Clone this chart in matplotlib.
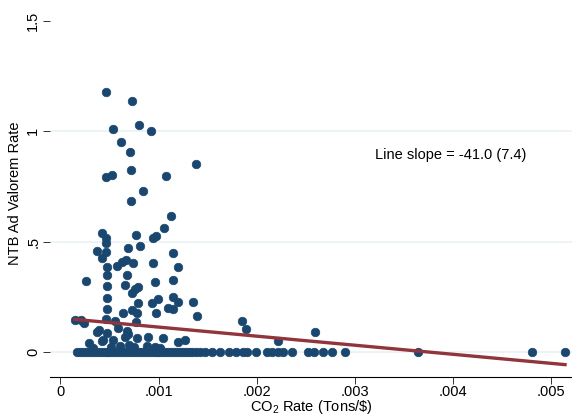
import matplotlib
matplotlib.use("Agg")
import matplotlib.pyplot as plt
import numpy as np

plt.rcParams['font.family'] = ['Liberation Sans', 'DejaVu Sans']
plt.rcParams['mathtext.default'] = 'regular'

# Non-zero observations (CO2 rate in units of 0.001 tons/$, NTB rate)
x_pos = [0.465, 0.725, 0.536, 0.801, 0.927, 0.618, 0.709, 1.382, 0.717, 0.465,
         0.523, 1.076, 0.839, 0.717, 1.127, 0.424, 0.465, 0.769, 1.053, 0.975,
         0.947, 0.465, 0.370, 0.465, 0.692, 0.811, 0.427, 1.151, 0.669, 0.625,
         0.577, 0.737, 0.944, 1.199, 0.470, 0.470, 0.676, 0.261, 0.964, 1.145,
         0.470, 0.659, 0.727, 0.760, 0.794, 0.475, 0.796, 0.929, 0.998, 1.151,
         1.202, 1.355, 0.470, 0.635, 0.727, 0.778, 0.975, 1.100, 1.151, 1.389,
         0.465, 0.771, 0.149, 0.210, 0.241, 0.557, 1.848, 1.892, 0.370, 0.397,
         0.478, 0.590, 0.676, 0.692, 0.295, 0.421, 0.533, 0.659, 0.784, 0.896,
         1.049, 1.202, 1.270, 2.221, 2.595, 0.437, 0.610, 0.750, 0.880, 0.330,
         0.520, 0.700, 0.960, 1.020]
y_pos = [1.176, 1.135, 1.009, 1.029, 1.000, 0.950, 0.905, 0.852, 0.827, 0.792,
         0.800, 0.798, 0.732, 0.683, 0.617, 0.540, 0.519, 0.529, 0.561, 0.526,
         0.516, 0.493, 0.458, 0.454, 0.470, 0.480, 0.425, 0.451, 0.418, 0.409,
         0.392, 0.405, 0.405, 0.387, 0.387, 0.348, 0.350, 0.323, 0.320, 0.327,
         0.302, 0.305, 0.270, 0.285, 0.294, 0.247, 0.224, 0.224, 0.240, 0.248,
         0.229, 0.228, 0.195, 0.176, 0.190, 0.176, 0.176, 0.199, 0.194, 0.164,
         0.149, 0.139, 0.144, 0.144, 0.131, 0.143, 0.142, 0.104, 0.093, 0.101,
         0.089, 0.109, 0.096, 0.083, 0.044, 0.051, 0.056, 0.071, 0.063, 0.067,
         0.063, 0.048, 0.056, 0.052, 0.093, 0.056, 0.030, 0.025, 0.028, 0.020,
         0.022, 0.035, 0.024, 0.018]

# Zero-valued observations
x_zero = [0.169, 0.200, 0.230, 0.260, 0.290, 0.320, 0.350, 0.380, 0.410, 0.440,
          0.470, 0.500, 0.530, 0.560, 0.590, 0.620, 0.650, 0.680, 0.710, 0.740,
          0.770, 0.800, 0.830, 0.860, 0.890, 0.920, 0.950, 0.980, 1.010, 1.040,
          1.070, 1.100, 1.130, 1.160, 1.190, 1.220, 1.250, 1.280, 1.310, 1.340,
          1.380, 1.420, 1.474, 1.545, 1.627, 1.719, 1.790, 1.858, 1.899, 1.994,
          2.103, 2.154, 2.221, 2.272, 2.358, 2.527, 2.585, 2.680, 2.766, 2.904,
          3.642, 4.804, 5.144]

slope = -41.0
intercept = 0.149 + 41.0 * 0.000149

xticks = [0, 0.001, 0.002, 0.003, 0.004, 0.005]
xticklabels = ['0', '.001', '.002', '.003', '.004', '.005']
yticks = [0, 0.5, 1, 1.5]
yticklabels = ['0', '.5', '1', '1.5']

navy = '#1a476f'
maroon = '#90353b'
FS = 10.5

W, H = 572, 419
fig = plt.figure(figsize=(W / 100, H / 100), dpi=100)
ax = fig.add_axes([50 / W, (H - 377) / H, (W - 50) / W, (377 - 10) / H])

xs = np.array(x_pos + x_zero) / 1000.0
ys = np.array(y_pos + [0.0] * len(x_zero))

for g in [0, 0.5, 1]:
    ax.axhline(g, color='#eaf2f3', lw=1.2, zorder=0)

ax.scatter(xs, ys, s=38, color=navy, edgecolors=navy, linewidths=0.5, zorder=3)

xl = np.array([xs.min(), xs.max()])
ax.plot(xl, intercept + slope * xl, color=maroon, lw=2.4, zorder=4)

ax.set_xlim((50 - 60.4) / 98100, (572 - 60.4) / 98100)
ax.set_ylim(-(377 - 352.3) / 221, (352.3 - 10) / 221)

ax.set_xticks(xticks)
ax.set_xticklabels(xticklabels)
ax.set_yticks(yticks)
ax.set_yticklabels(yticklabels, rotation=90, va='center')

for s in ['top', 'right', 'left']:
    ax.spines[s].set_visible(False)
ax.spines['bottom'].set_linewidth(0.8)
ax.tick_params(axis='both', labelsize=FS, length=5, width=0.7, color='#333333')
ax.tick_params(axis='x', pad=1)
ax.tick_params(axis='y', pad=2)

ax.set_xlabel('CO$_2$ Rate (Tons/\\$)', fontsize=FS, labelpad=-1)
ax.set_ylabel('NTB Ad Valorem Rate', fontsize=FS, labelpad=3)

ax.text(0.003207, 0.893, 'Line slope = -41.0 (7.4)', fontsize=FS,
        ha='left', va='center')

fig.savefig('out.png', dpi=100)
